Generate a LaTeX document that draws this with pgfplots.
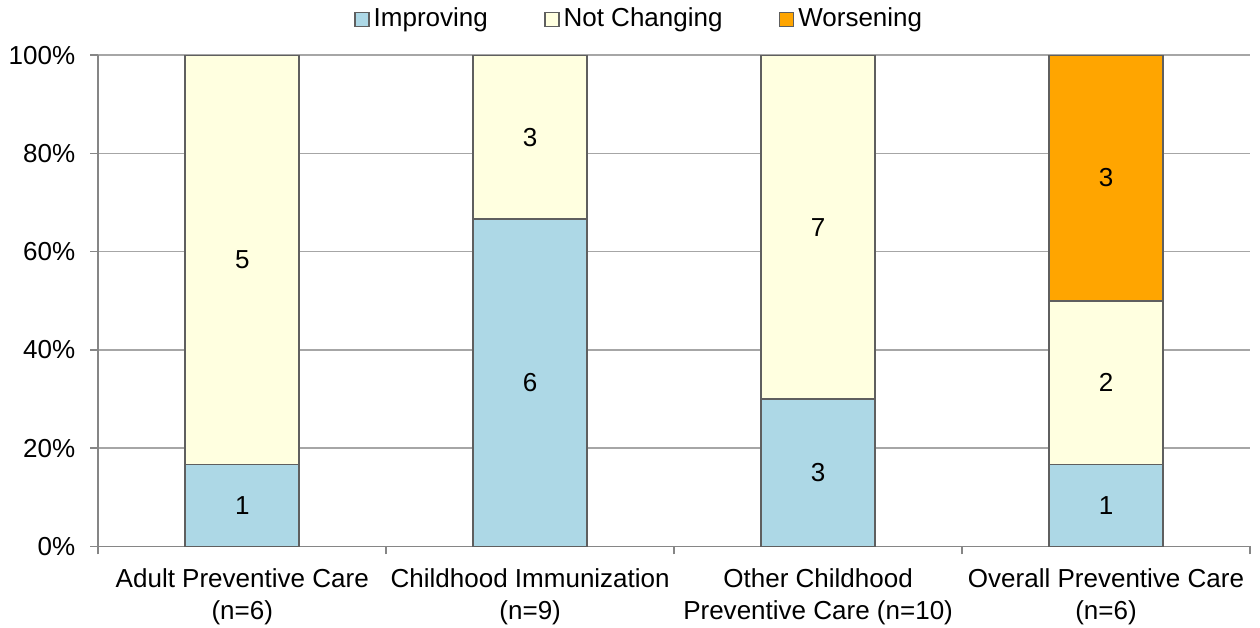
\documentclass[border=0pt]{standalone}
\usepackage{pgfplots}
\pgfplotsset{compat=1.18}
\usepackage{fontspec}
\setmainfont{Liberation Sans}
\definecolor{improv}{HTML}{ADD8E6}
\definecolor{notch}{HTML}{FFFFE0}
\definecolor{worse}{HTML}{FFA500}
\definecolor{barline}{HTML}{5F5F5F}
\definecolor{axgray}{HTML}{868686}
\definecolor{gridgray}{HTML}{A6A6A6}
\newcommand\chartfont{\fontsize{13pt}{15pt}\selectfont}
\newcommand\labelfont{\fontsize{13pt}{16pt}\selectfont}
\begin{document}
\chartfont
\begin{tikzpicture}
\begin{axis}[
  name=main,
  scale only axis,
  width=575.5pt, height=245.5pt,
  ybar stacked,
  bar width=57pt,
  xmin=-0.5, xmax=3.5,
  ymin=0, ymax=100,
  axis x line*=bottom, axis y line*=left,
  axis line style={axgray, line width=0.8pt, -},
  xtick={0,1,2,3},
  xticklabels={{Adult Preventive Care\\(n=6)},{Childhood Immunization\\(n=9)},{Other Childhood\\Preventive Care (n=10)},{Overall Preventive Care\\(n=6)}},
  xticklabel style={align=center, font=\labelfont, text=black, inner sep=1pt, yshift=-6pt},
  major x tick style={draw=none},
  minor xtick={-0.5,0.5,1.5,2.5,3.5},
  minor x tick style={axgray, line width=0.8pt},
  ytick={0,20,40,60,80,100},
  yticklabels={0\%,20\%,40\%,60\%,80\%,100\%},
  yticklabel style={font=\chartfont, text=black, xshift=-3pt},
  ytick style={axgray, line width=0.8pt},
  tick align=outside,
  major tick length=4pt, minor tick length=4pt,
  ymajorgrids,
  grid style={gridgray, line width=0.8pt},
  legend style={at={(0.5,1)}, anchor=south, yshift=8pt, xshift=-17pt, draw=none, fill=none,
    legend columns=3, font=\chartfont,
    /tikz/every even column/.append style={column sep=26pt}},
  legend image code/.code={\draw[#1, draw=barline, line width=0.8pt] (0pt,-3.5pt) rectangle (7pt,3.5pt);},
  legend cell align=left,
]
\addplot[fill=improv, draw=barline, line width=0.8pt] coordinates {(0,16.667) (1,66.667) (2,30) (3,16.667)};
\addlegendentry{Improving}
\addplot[fill=notch, draw=barline, line width=0.8pt] coordinates {(0,83.333) (1,33.333) (2,70) (3,33.333)};
\addlegendentry{Not Changing}
\addplot[fill=worse, draw=barline, line width=0.8pt] coordinates {(0,0) (1,0) (2,0) (3,50)};
\addlegendentry{Worsening}
\end{axis}
\begin{axis}[
  at={(main.south west)}, anchor=south west,
  scale only axis,
  width=575.5pt, height=245.5pt,
  xmin=-0.5, xmax=3.5, ymin=0, ymax=100,
  hide axis,
]
\addplot[draw=none, mark=none, nodes near coords={\pgfplotspointmeta},
  every node near coord/.style={anchor=center, font=\chartfont, text=black},
  point meta=explicit symbolic]
  coordinates {(0,8.333)[1] (0,58.333)[5] (1,33.333)[6] (1,83.333)[3] (2,15)[3] (2,65)[7] (3,8.333)[1] (3,33.333)[2] (3,75)[3]};
\end{axis}
\path ([xshift=5pt]main.south east);
\end{tikzpicture}
\end{document}
